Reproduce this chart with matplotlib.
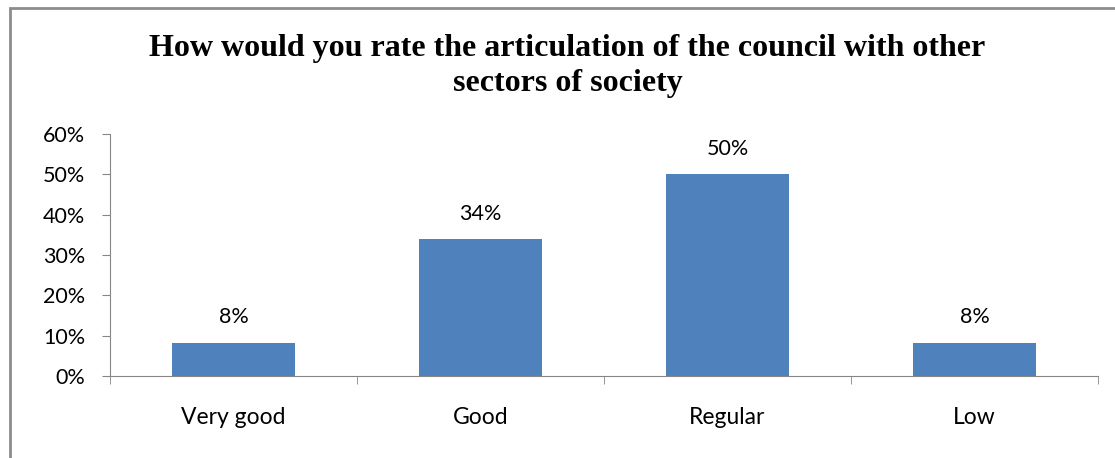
import matplotlib.pyplot as plt
from matplotlib.patches import Rectangle
from matplotlib.ticker import FixedLocator, PercentFormatter

categories = ["Very good", "Good", "Regular", "Low"]
values = [8.3, 34, 50, 8.3]
labels = ["8%", "34%", "50%", "8%"]
title = "How would you rate the articulation of the council with other\nsectors of society"

BAR = "#4F81BD"
AXIS = "#868686"
FONT = ["Lato", "DejaVu Sans"]
FS = 15.5


def main():
    fig = plt.figure(figsize=(11.15, 4.58), dpi=100)
    ax = fig.add_axes([110 / 1115, 1 - 376 / 458, 988 / 1115, 242 / 458])

    x = range(len(categories))
    ax.bar(x, values, width=0.5, color=BAR, zorder=2)
    for i, (v, lab) in enumerate(zip(values, labels)):
        ax.annotate(lab, (i, v), xytext=(0, 11), textcoords="offset points",
                    ha="center", va="bottom", fontsize=FS, family=FONT)

    ax.set_xlim(-0.5, len(categories) - 0.5)
    ax.set_ylim(0, 60)
    ax.set_yticks(range(0, 61, 10))
    ax.yaxis.set_major_formatter(PercentFormatter(decimals=0))

    # category labels centred, tick marks on the boundaries
    ax.set_xticks(list(x))
    ax.set_xticklabels(categories, fontsize=16.5, family=FONT)
    ax.tick_params(axis="x", which="major", length=0, pad=22)
    ax.xaxis.set_minor_locator(FixedLocator([i - 0.5 for i in range(len(categories) + 1)]))
    ax.tick_params(axis="x", which="minor", length=6, direction="out", color=AXIS)
    ax.tick_params(axis="y", length=6, direction="out", color=AXIS, pad=12, labelsize=FS)
    for t in ax.get_yticklabels():
        t.set_family(FONT)

    for side in ["top", "right"]:
        ax.spines[side].set_visible(False)
    for side in ["left", "bottom"]:
        ax.spines[side].set_color(AXIS)

    fig.text(0.509, 1 - 66 / 458, title, ha="center", va="center",
             fontsize=23, fontweight="bold", family="Liberation Serif",
             linespacing=1.3)

    # chart frame (only top and left edges fall inside the image)
    fig.add_artist(Rectangle((10 / 1115, -0.1), 1.2, 1.1 - 8 / 458,
                             transform=fig.transFigure, fill=False,
                             edgecolor="#8C8C8C", linewidth=2))

    fig.savefig("out.png", dpi=100)


if __name__ == "__main__":
    main()
